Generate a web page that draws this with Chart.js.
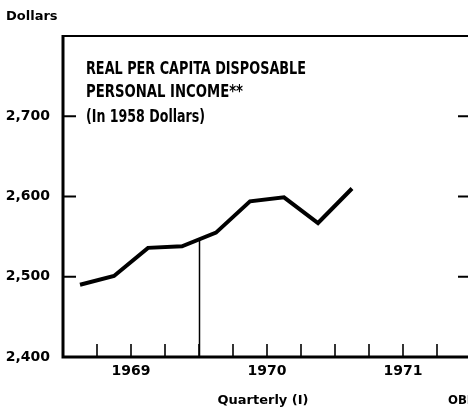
<!DOCTYPE html>
<html><head><meta charset="utf-8">
<script src="https://cdn.jsdelivr.net/npm/chart.js@4"></script>
<style>
html,body{margin:0;padding:0;background:#fff;overflow:hidden;width:468px;height:409px}
#wrap{position:absolute;left:0;top:0;width:480px;height:409px}
</style>
</head><body>
<div id="wrap"><canvas id="c" width="480" height="409"></canvas></div>
<script>
// ---- data ----
const years    = [1969, 1969, 1969, 1969, 1970, 1970, 1970, 1970, 1971];
const quarters = [1, 2, 3, 4, 1, 2, 3, 4, 1];
const values   = [2490, 2501, 2536, 2538, 2555, 2594, 2599, 2567, 2610];
const yTickValues = [2400, 2500, 2600, 2700];
const yTickLabels = ['2,400', '2,500', '2,600', '2,700'];
const yearLabels  = ['1969', '1970', '1971'];
const markerYear  = 1970;
const markerValue = 2546;
const titleLines  = ['REAL PER CAPITA DISPOSABLE', 'PERSONAL INCOME**', '(In 1958 Dollars)'];
const yAxisTitle  = 'Dollars';
const xAxisTitle  = 'Quarterly (I)';
const sourceCode  = 'OBE';

const points = years.map((y, i) => ({ x: y + (quarters[i] - 0.5) / 4, y: values[i] }));

const framePlugin = {
  id: 'frame',
  afterDraw(chart) {
    const ctx = chart.ctx, a = chart.chartArea;
    const xs = chart.scales.x, ys = chart.scales.y;
    ctx.save();
    ctx.strokeStyle = '#000';
    ctx.lineCap = 'butt';
    // top border
    ctx.lineWidth = 2;
    ctx.beginPath(); ctx.moveTo(a.left, a.top); ctx.lineTo(a.right, a.top); ctx.stroke();
    // left & bottom axes
    ctx.lineWidth = 3;
    ctx.beginPath(); ctx.moveTo(a.left, a.top - 1); ctx.lineTo(a.left, a.bottom);
    ctx.lineTo(a.right, a.bottom); ctx.stroke();
    ctx.lineWidth = 2;
    ctx.beginPath(); ctx.moveTo(a.right, a.top); ctx.lineTo(a.right, a.bottom); ctx.stroke();
    // y ticks (inward, both sides)
    ctx.lineWidth = 2;
    yTickValues.forEach(v => {
      const py = ys.getPixelForValue(v);
      ctx.beginPath(); ctx.moveTo(a.left, py); ctx.lineTo(a.left + 13, py); ctx.stroke();
      ctx.beginPath(); ctx.moveTo(a.right - 13, py); ctx.lineTo(a.right, py); ctx.stroke();
    });
    // quarter ticks on bottom
    ctx.lineWidth = 1.6;
    for (let t = xs.min + 0.25; t < xs.max - 0.01; t += 0.25) {
      const px = xs.getPixelForValue(t);
      ctx.beginPath(); ctx.moveTo(px, a.bottom); ctx.lineTo(px, a.bottom - 13); ctx.stroke();
    }
    // vertical marker line
    ctx.lineWidth = 1.5;
    const mx = xs.getPixelForValue(markerYear) + 0.5;
    ctx.beginPath(); ctx.moveTo(mx, ys.getPixelForValue(markerValue)); ctx.lineTo(mx, a.bottom); ctx.stroke();
    // texts
    ctx.fillStyle = '#000';
    ctx.textBaseline = 'middle';
    ctx.textAlign = 'left';
    ctx.font = "bold 13px 'DejaVu Sans', sans-serif";
    ctx.fillText(yAxisTitle, 6, 17, 56);
    ctx.textAlign = 'center';
    ctx.fillText(xAxisTitle, 263, 401, 94);
    ctx.textAlign = 'left';
    ctx.font = "bold 13px 'Liberation Sans Narrow', 'DejaVu Sans Condensed', sans-serif";
    ctx.fillText(sourceCode, 448, 401);
    ctx.font = "bold 18px 'Liberation Sans Narrow', 'DejaVu Sans Condensed', sans-serif";
    const tw = [220, 157, 119];
    const ty = [69, 92, 117];
    titleLines.forEach((s, i) => ctx.fillText(s, 86, ty[i], tw[i]));
    ctx.restore();
  }
};

new Chart(document.getElementById('c'), {
  type: 'line',
  data: { datasets: [{
    data: points, borderColor: '#000', borderWidth: 4, pointRadius: 0,
    tension: 0, borderJoinStyle: 'miter', fill: false
  }]},
  options: {
    responsive: false, animation: false, devicePixelRatio: 1,
    layout: { padding: { top: 36, right: 9, left: 0, bottom: 0 } },
    plugins: { legend: { display: false }, tooltip: { enabled: false } },
    scales: {
      x: {
        type: 'linear', min: 1969, max: 1972,
        grid: { display: false, drawTicks: false }, border: { display: false },
        afterBuildTicks: s => { s.ticks = yearLabels.map(l => ({ value: +l + 0.5 })); },
        afterFit: s => { s.height = 52; },
        ticks: {
          autoSkip: false, maxRotation: 0, padding: 6, color: '#000',
          font: { family: "'DejaVu Sans', sans-serif", size: 14, weight: 'bold' },
          callback: (v) => yearLabels[yearLabels.indexOf(String(Math.floor(v)))]
        }
      },
      y: {
        min: 2400, max: 2800,
        grid: { display: false, drawTicks: false }, border: { display: false },
        afterBuildTicks: s => { s.ticks = yTickValues.map(v => ({ value: v })); },
        afterFit: s => { s.width = 63; },
        ticks: {
          padding: 13, color: '#000',
          font: { family: "'DejaVu Sans', sans-serif", size: 14, weight: 'bold' },
          callback: (v) => yTickLabels[yTickValues.indexOf(v)]
        }
      }
    }
  },
  plugins: [framePlugin]
});
</script>
</body></html>
